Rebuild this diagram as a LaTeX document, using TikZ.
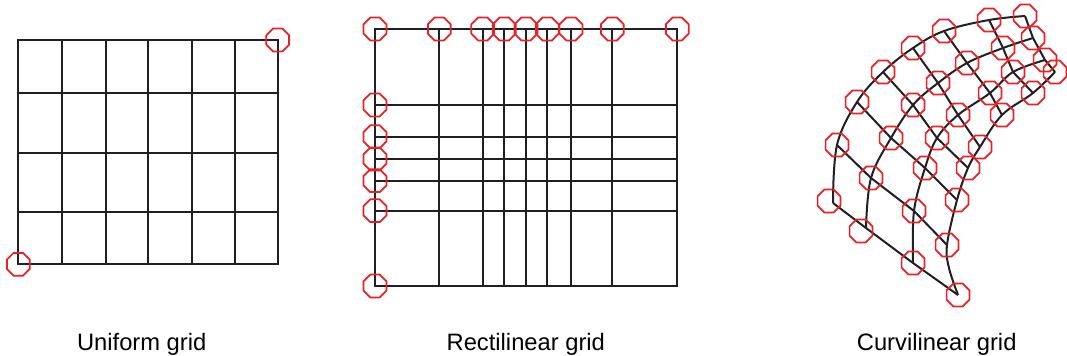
\documentclass[tikz,border=0pt]{standalone}
\usepackage{fontspec}
\setmainfont{Liberation Sans}
\usetikzlibrary{shapes.geometric}
\definecolor{markred}{RGB}{232,33,39}
\definecolor{inkline}{RGB}{35,31,32}
\tikzset{
  gridline/.style={draw=inkline, line width=1.5pt},
  ring/.style={draw=markred, line width=1.3pt, regular polygon, regular polygon sides=8,
    minimum size=18.5pt, inner sep=0pt},
  caption/.style={font=\fontsize{17.8}{20}\selectfont, anchor=base, inner sep=0pt}
}
\begin{document}
\begin{tikzpicture}[x=0.75pt,y=-0.75pt]
  \useasboundingbox (0,0) rectangle (1067,356);
  % uniform grid
  \draw[gridline] (18.3,40) rectangle (277.7,264.3);
  \draw[gridline]
    (61.7,40) -- (61.7,264.3)
    (105.7,40) -- (105.7,264.3)
    (148.3,40) -- (148.3,264.3)
    (191.7,40) -- (191.7,264.3)
    (235,40) -- (235,264.3)
    (18.3,93.3) -- (277.7,93.3)
    (18.3,153.3) -- (277.7,153.3)
    (18.3,211.7) -- (277.7,211.7);
  \node[ring] (u0) at (18.3,264.3) {};
  \node[ring] (u1) at (277.7,40) {};
  % rectilinear grid
  \draw[gridline] (375,29) rectangle (677.3,286);
  \draw[gridline]
    (439.3,29) -- (439.3,286)
    (482.7,29) -- (482.7,286)
    (504.3,29) -- (504.3,286)
    (526,29) -- (526,286)
    (547.3,29) -- (547.3,286)
    (571,29) -- (571,286)
    (612.3,29) -- (612.3,286)
    (375,105) -- (677.3,105)
    (375,136.7) -- (677.3,136.7)
    (375,159) -- (677.3,159)
    (375,180.7) -- (677.3,180.7)
    (375,210.7) -- (677.3,210.7);
  \node[ring] (r0) at (375,29) {};
  \node[ring] (r1) at (439.3,29) {};
  \node[ring] (r2) at (482.7,29) {};
  \node[ring] (r3) at (504.3,29) {};
  \node[ring] (r4) at (526,29) {};
  \node[ring] (r5) at (547.3,29) {};
  \node[ring] (r6) at (571,29) {};
  \node[ring] (r7) at (612.3,29) {};
  \node[ring] (r8) at (677.3,29) {};
  \node[ring] (r9) at (375,105) {};
  \node[ring] (r10) at (375,136.7) {};
  \node[ring] (r11) at (375,159) {};
  \node[ring] (r12) at (375,180.7) {};
  \node[ring] (r13) at (375,210.7) {};
  \node[ring] (r14) at (375,286) {};
  % curvilinear grid
  \path
    (833,203) coordinate (a0)
    (837,145) coordinate (a1)
    (857,102) coordinate (a2)
    (883,72) coordinate (a3)
    (913,48) coordinate (a4)
    (944,31) coordinate (a5)
    (989,20) coordinate (a6)
    (1025,16) coordinate (a7)
    (866,228) coordinate (b0)
    (871,178) coordinate (b1)
    (891,138) coordinate (b2)
    (913,105) coordinate (b3)
    (938,83) coordinate (b4)
    (967,63) coordinate (b5)
    (1003,48) coordinate (b6)
    (1033,38) coordinate (b7)
    (913,263) coordinate (c0)
    (914,211) coordinate (c1)
    (925,168) coordinate (c2)
    (937,138) coordinate (c3)
    (958,115) coordinate (c4)
    (990,93) coordinate (c5)
    (1013,72) coordinate (c6)
    (1045,60) coordinate (c7)
    (958,295) coordinate (d0)
    (947,245) coordinate (d1)
    (957,200) coordinate (d2)
    (968,168) coordinate (d3)
    (980,147) coordinate (d4)
    (1002,115) coordinate (d5)
    (1033,93) coordinate (d6)
    (1055,72) coordinate (d7)
    (949,268) coordinate (d01);
  \begin{scope}[gridline]
    \draw plot[smooth, tension=0.6] coordinates {(a0) (a1) (a2) (a3) (a4) (a5) (a6) (a7)};
    \draw plot[smooth, tension=0.6] coordinates {(b0) (b1) (b2) (b3) (b4) (b5) (b6) (b7)};
    \draw plot[smooth, tension=0.6] coordinates {(c0) (c1) (c2) (c3) (c4) (c5) (c6) (c7)};
    \draw plot[smooth, tension=0.6] coordinates {(d0) (d01) (d1) (d2) (d3) (d4) (d5) (d6) (d7)};
    \draw (a0) -- (b0) -- (c0) -- (d0);
    \draw (a1) -- (b1) -- (c1) -- (d1);
    \draw (a2) -- (b2) -- (c2) -- (d2);
    \draw (a3) -- (b3) -- (c3) -- (d3);
    \draw (a4) -- (b4) -- (c4) -- (d4);
    \draw (a5) -- (b5) -- (c5) -- (d5);
    \draw (a6) -- (b6) -- (c6) -- (d6);
    \draw (a7) -- (b7) -- (c7) -- (d7);
  \end{scope}
  \node[ring] (na0) at ([shift={(-4,-2)}]a0) {};
  \node[ring] (na1) at (a1) {};
  \node[ring] (na2) at (a2) {};
  \node[ring] (na3) at (a3) {};
  \node[ring] (na4) at (a4) {};
  \node[ring] (na5) at (a5) {};
  \node[ring] (na6) at (a6) {};
  \node[ring] (na7) at (a7) {};
  \node[ring] (nb0) at ([shift={(-5,3)}]b0) {};
  \node[ring] (nb1) at (b1) {};
  \node[ring] (nb2) at (b2) {};
  \node[ring] (nb3) at (b3) {};
  \node[ring] (nb4) at (b4) {};
  \node[ring] (nb5) at (b5) {};
  \node[ring] (nb6) at (b6) {};
  \node[ring] (nb7) at (b7) {};
  \node[ring] (nc0) at (c0) {};
  \node[ring] (nc1) at (c1) {};
  \node[ring] (nc2) at (c2) {};
  \node[ring] (nc3) at (c3) {};
  \node[ring] (nc4) at (c4) {};
  \node[ring] (nc5) at (c5) {};
  \node[ring] (nc6) at (c6) {};
  \node[ring] (nc7) at (c7) {};
  \node[ring] (nd0) at (d0) {};
  \node[ring] (nd1) at (d1) {};
  \node[ring] (nd2) at (d2) {};
  \node[ring] (nd3) at (d3) {};
  \node[ring] (nd4) at (d4) {};
  \node[ring] (nd5) at (d5) {};
  \node[ring] (nd6) at (d6) {};
  \node[ring] (nd7) at (d7) {};
  % captions
  \node[caption] (cap1) at (141.7,350) {Uniform grid};
  \node[caption] (cap2) at (525.8,350) {Rectilinear grid};
  \node[caption] (cap3) at (936.7,350) {Curvilinear grid};
\end{tikzpicture}
\end{document}
